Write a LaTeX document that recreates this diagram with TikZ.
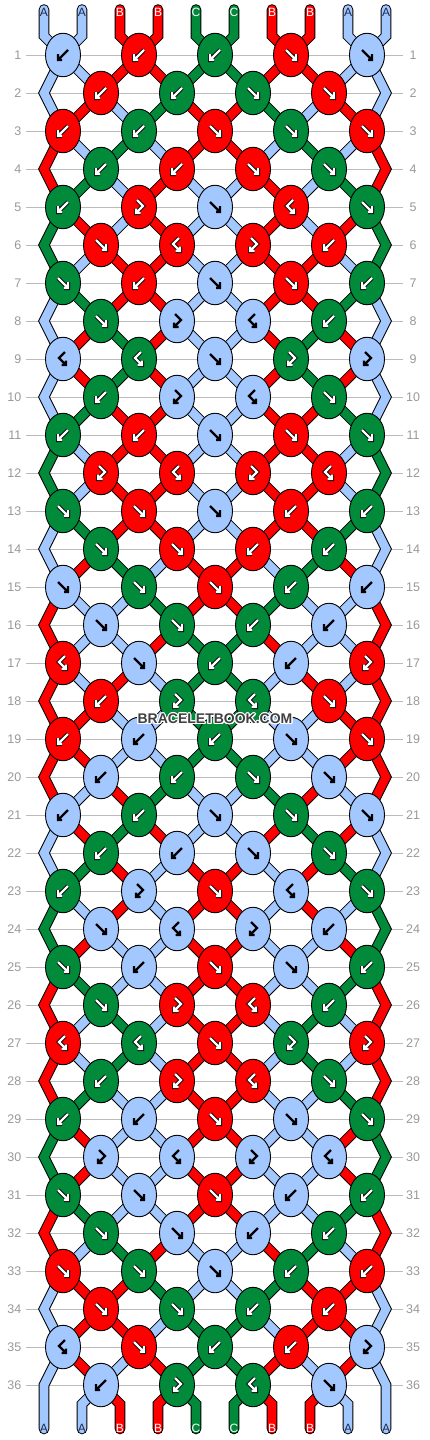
\documentclass[tikz,border=0pt]{standalone}
\usepackage{fontspec}
\setmainfont{Liberation Sans}
\usepackage{contour}
\contourlength{1.1pt}
\usetikzlibrary{shapes.geometric,backgrounds}
\definecolor{colA}{HTML}{A3C8FF}
\definecolor{colB}{HTML}{FF0000}
\definecolor{colC}{HTML}{008A3A}
\definecolor{lblA}{HTML}{1E2B4D}
\definecolor{lblB}{HTML}{FFFFFF}
\definecolor{lblC}{HTML}{FFFFFF}
\definecolor{rowgray}{HTML}{BBBBBB}
\definecolor{numgray}{HTML}{999999}
\definecolor{wmgray}{HTML}{404040}
\tikzset{
  knot/.style={ellipse, draw=black, line width=0.9pt, minimum width=35pt, minimum height=43.5pt, inner sep=0pt},
  tubeout/.style={draw=black, line width=10.6pt, line cap=round, line join=miter},
  tubein/.style={draw=col#1, line width=8.6pt, line cap=round, line join=miter},
  rowline/.style={draw=rowgray, line width=0.9pt},
  num/.style={font=\fontsize{12.5}{12.5}\selectfont, text=numgray, inner sep=0pt},
  lbl/.style={font=\fontsize{12}{12}\selectfont, inner sep=0pt},
  arrowblack/.style={draw=black, line width=2.4pt, line cap=square, line join=miter},
  arrowrim/.style={draw=black, line width=4pt, line cap=square, line join=miter},
  arrowwhite/.style={draw=white, line width=2.4pt, line cap=square, line join=miter},
}
% F: forward, B: backward, G: forward-backward (left colour), H: backward-forward (right colour)
\newcommand\glyphpath[2]{%
  \if F#1\draw[#2] (-5,-5) -- (5,5) (5,-1) -- (5,5) -- (1,5);\fi
  \if B#1\draw[#2] (5,-5) -- (-5,5) (-5,-1) -- (-5,5) -- (-1,5);\fi
  \if G#1\draw[#2] (2,-7) -- (-4,-1) -- (3,6) (3,1.5) -- (3,6) -- (-1.5,6);\fi
  \if H#1\draw[#2] (-2,-7) -- (4,-1) -- (-3,6) (-3,1.5) -- (-3,6) -- (1.5,6);\fi}
\newcommand\knotglyph[4]{%
  \begin{scope}[shift={(#3,#4)}]
    \if A#2\glyphpath{#1}{arrowblack}\else\glyphpath{#1}{arrowrim}\glyphpath{#1}{arrowwhite}\fi
  \end{scope}}
\newcommand\putknot[4]{%
  \pgfmathsetmacro\kx{ifthenelse(mod(#1,2)==1,63,101)+76*(#2-1)}%
  \pgfmathsetmacro\ky{17+38*#1}%
  \node[knot, fill=col#3] (K#1-#2) at (\kx,\ky) {};%
  \knotglyph{#4}{#3}{\kx}{\ky}}
\def\knottok#1#2#3#4{\putknot{#3}{#4}{#1}{#2}}
\newcommand\drawseg[3]{%
  \ifnum#1=0\relax
    \pgfmathtruncatemacro\ks{floor(#2/2)+1}%
    \draw[tube=#3] (T#2) -- (TB#2) -- (K1-\ks.center);%
  \else\ifnum#1=36\relax
    \ifnum#2=0\relax\else\ifnum#2=9\relax\else
      \pgfmathtruncatemacro\ks{floor((#2-1)/2)+1}%
      \draw[tube=#3] (K36-\ks.center) -- (BB#2) -- (BE#2);%
    \fi\fi
  \else
    \pgfmathtruncatemacro\rn{#1+1}%
    \pgfmathtruncatemacro\rnn{#1+2}%
    \ifodd#1\relax
      \pgfmathtruncatemacro\ks{floor(#2/2)+1}%
      \ifnum#2=0\relax
        \ifnum#1=35\relax
          \draw[tube=#3] (K#1-1.center) -- (E\rn-L) -- (BE0);%
        \else
          \draw[tube=#3] (K#1-1.center) -- (E\rn-L) -- (K\rnn-1.center);%
        \fi
      \else\ifnum#2=9\relax
        \ifnum#1=35\relax
          \draw[tube=#3] (K#1-5.center) -- (E\rn-R) -- (BE9);%
        \else
          \draw[tube=#3] (K#1-5.center) -- (E\rn-R) -- (K\rnn-5.center);%
        \fi
      \else
        \pgfmathtruncatemacro\kt{floor((#2-1)/2)+1}%
        \draw[tube=#3] (K#1-\ks.center) -- (K\rn-\kt.center);%
      \fi\fi
    \else
      \ifnum#2=0\relax\else\ifnum#2=9\relax\else
        \pgfmathtruncatemacro\ks{floor((#2-1)/2)+1}%
        \pgfmathtruncatemacro\kt{floor(#2/2)+1}%
        \draw[tube=#3] (K#1-\ks.center) -- (K\rn-\kt.center);%
      \fi\fi
    \fi
  \fi\fi}
\newcommand\allstrings{%
  \foreach \r/\qa/\qb/\qc/\qd/\qe/\qf/\qg/\qh/\qi/\qj in {
    0/A/A/B/B/C/C/B/B/A/A,
    1/A/A/B/B/C/C/B/B/A/A,
    2/A/B/A/C/B/B/C/A/B/A,
    3/B/A/C/A/B/B/A/C/A/B,
    4/B/C/A/B/A/A/B/A/C/B,
    5/C/B/A/B/A/A/B/A/B/C,
    6/C/A/B/B/A/A/B/B/A/C,
    7/A/C/B/B/A/A/B/B/C/A,
    8/A/B/C/B/A/A/B/C/B/A,
    9/A/B/C/B/A/A/B/C/B/A,
    10/A/C/B/B/A/A/B/B/C/A,
    11/C/A/B/B/A/A/B/B/A/C,
    12/C/A/B/B/A/A/B/B/A/C,
    13/A/C/B/B/A/A/B/B/C/A,
    14/A/B/C/A/B/B/A/C/B/A,
    15/B/A/A/C/B/B/C/A/A/B,
    16/B/A/A/B/C/C/B/A/A/B,
    17/B/A/B/A/C/C/A/B/A/B,
    18/B/B/A/A/C/C/A/A/B/B,
    19/B/B/A/A/C/C/A/A/B/B,
    20/B/A/B/C/A/A/C/B/A/B,
    21/A/B/C/B/A/A/B/C/B/A,
    22/A/C/B/A/B/B/A/B/C/A,
    23/C/A/B/A/B/B/A/B/A/C,
    24/C/B/A/A/B/B/A/A/B/C,
    25/B/C/A/A/B/B/A/A/C/B,
    26/B/A/C/A/B/B/A/C/A/B,
    27/B/A/C/A/B/B/A/C/A/B,
    28/B/C/A/A/B/B/A/A/C/B,
    29/C/B/A/A/B/B/A/A/B/C,
    30/C/B/A/A/B/B/A/A/B/C,
    31/B/C/A/A/B/B/A/A/C/B,
    32/B/A/C/B/A/A/B/C/A/B,
    33/A/B/B/C/A/A/C/B/B/A,
    34/A/B/B/A/C/C/A/B/B/A,
    35/A/B/A/B/C/C/B/A/B/A,
    36/A/A/B/B/C/C/B/B/A/A}
  {\foreach \p/\cc in {0/\qa,1/\qb,2/\qc,3/\qd,4/\qe,5/\qf,6/\qg,7/\qh,8/\qi,9/\qj}
    {\drawseg{\r}{\p}{\cc}}}}
\begin{document}
\begin{tikzpicture}[x=1pt,y=-1pt]
\useasboundingbox (0,0) rectangle (430,1440);
% knots, odd rows
\foreach \r/\ka/\kb/\kc/\kd/\ke in {
  1/AB/BB/CB/BF/AF, 3/BB/CB/BF/CF/BF, 5/CB/BH/AF/BG/CF, 7/CF/BB/AF/BF/CB,
  9/AG/CG/AF/CH/AH, 11/CB/BB/AF/BF/CF, 13/CF/BF/AF/BB/CB, 15/AF/CF/BF/CB/AB,
  17/BG/AF/CB/AB/BH, 19/BB/AB/CB/AF/BF, 21/AB/CB/AF/CF/AF, 23/CB/AH/BF/AG/CF,
  25/CF/AB/BF/AF/CB, 27/BG/CG/BF/CH/BH, 29/CB/AB/BF/AF/CF, 31/CF/AF/BF/AB/CB,
  33/BF/CF/AF/CB/BB, 35/AG/BF/CB/BB/AH}
{\expandafter\knottok\ka{\r}{1}\expandafter\knottok\kb{\r}{2}\expandafter\knottok\kc{\r}{3}%
 \expandafter\knottok\kd{\r}{4}\expandafter\knottok\ke{\r}{5}}
% knots, even rows
\foreach \r/\ka/\kb/\kc/\kd in {
  2/BB/CB/CF/BF, 4/CB/BB/BF/CF, 6/BF/BG/BH/BB, 8/CF/AH/AG/CB,
  10/CB/AH/AG/CF, 12/BH/BG/BH/BG, 14/CF/BF/BB/CB, 16/AF/CF/CB/AB,
  18/BB/CH/CG/BF, 20/AB/CB/CF/AF, 22/CB/AB/AF/CF, 24/AF/AG/AH/AB,
  26/CF/BH/BG/CB, 28/CB/BH/BG/CF, 30/AH/AG/AH/AG, 32/CF/AF/AB/CB,
  34/BF/CF/CB/BB, 36/AB/CH/CG/AF}
{\expandafter\knottok\ka{\r}{1}\expandafter\knottok\kb{\r}{2}\expandafter\knottok\kc{\r}{3}%
 \expandafter\knottok\kd{\r}{4}}
% edge bends and string ends
\foreach \r in {2,4,...,36}{\pgfmathsetmacro\ey{17+38*\r}%
  \coordinate (E\r-L) at (44,\ey); \coordinate (E\r-R) at (386,\ey);}
\foreach \p/\L in {0/A,1/A,2/B,3/B,4/C,5/C,6/B,7/B,8/A,9/A}{\pgfmathsetmacro\sx{44+38*\p}%
  \coordinate (T\p) at (\sx,9.5); \coordinate (TB\p) at (\sx,36);
  \coordinate (BB\p) at (\sx,1404); \coordinate (BE\p) at (\sx,1429);
  \node[lbl, text=lbl\L] (LT\p) at (\sx,12.5) {\L};
  \node[lbl, text=lbl\L] (LB\p) at (\sx,1428) {\L};}
% row numbers
\foreach \r in {1,...,36}{\pgfmathsetmacro\ny{17+38*\r}%
  \node[num, anchor=east] (NL\r) at (21.5,\ny) {\r};
  \node[num] (NR\r) at (413,\ny) {\r};}
\begin{pgfonlayer}{background}
  \fill[white] (0,0) rectangle (430,1440);
  \foreach \r in {1,...,36}{\pgfmathsetmacro\ny{17+38*\r}\draw[rowline] (26,\ny) -- (403,\ny);}
  \begin{scope}[tube/.style={tubeout}]\allstrings\end{scope}
  \begin{scope}[tube/.style={tubein=#1}]\allstrings\end{scope}
\end{pgfonlayer}
\node[font=\bfseries\fontsize{14}{14}\selectfont, text=wmgray, inner sep=0pt] (WM) at (215,719.5) {\contour{white}{BRACELETBOOK.COM}};
\end{tikzpicture}
\end{document}
